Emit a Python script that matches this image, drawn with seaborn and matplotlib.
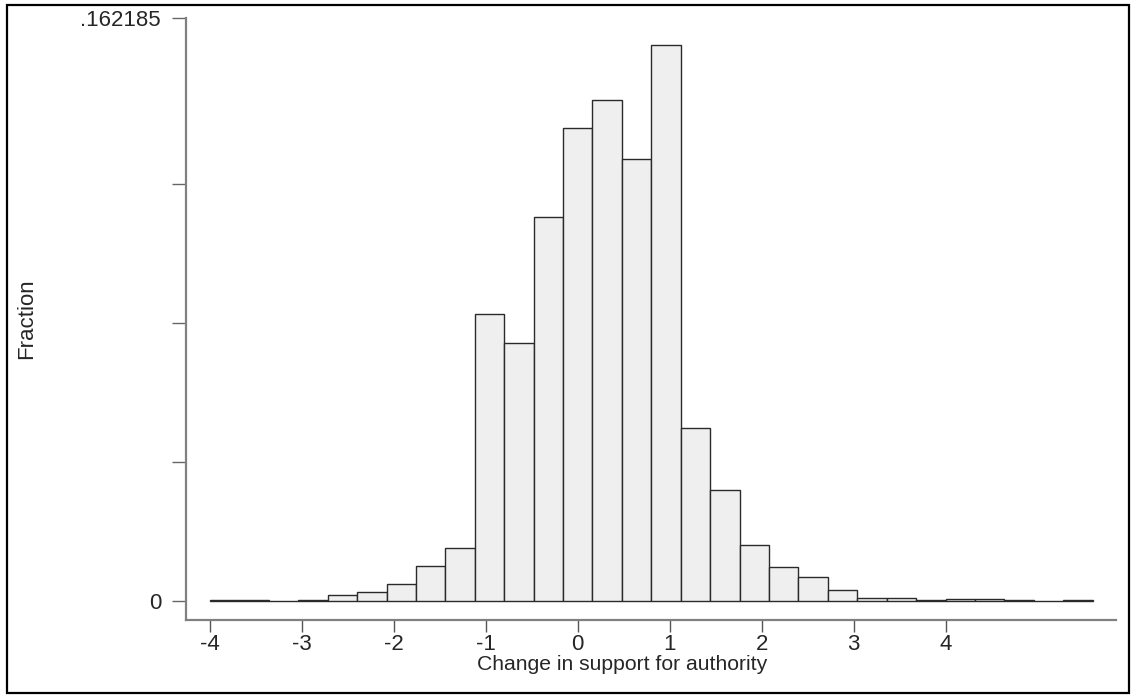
import matplotlib
matplotlib.use("Agg")
import matplotlib.pyplot as plt
from matplotlib.patches import Rectangle
import seaborn as sns
import numpy as np

# histogram bins (left edges + final right edge) and fraction per bin
bin_edges = [-4.00, -3.68, -3.36, -3.04, -2.72, -2.40, -2.08, -1.76, -1.44, -1.12,
             -0.80, -0.48, -0.16, 0.16, 0.48, 0.80, 1.12, 1.44, 1.76, 2.08,
             2.40, 2.72, 3.04, 3.36, 3.68, 4.00, 4.32, 4.64, 4.96, 5.28, 5.60]
fractions = [0.0002, 0.0002, 0.0, 0.0004, 0.00175, 0.0025, 0.0049, 0.0103, 0.0155, 0.0836,
             0.0751, 0.1120, 0.1378, 0.1461, 0.1288, 0.162185, 0.0504, 0.0324, 0.0163, 0.0099,
             0.0070, 0.0031, 0.0008, 0.0008, 0.0002, 0.0005, 0.0005, 0.0002, 0.0, 0.0002]

x_ticks = [-4, -3, -2, -1, 0, 1, 2, 3, 4]
x_ticklabels = ["-4", "-3", "-2", "-1", "0", "1", "2", "3", "4"]
y_quarter_ticks = [0.040546, 0.081093, 0.121639]
y_top = 0.1700
y_top_label = ".162185"

centers = [(a + b) / 2 for a, b in zip(bin_edges[:-1], bin_edges[1:])]

sns.set_style("white")
plt.rcParams["font.family"] = ["Liberation Sans", "DejaVu Sans"]
plt.rcParams["axes.unicode_minus"] = False

fig = plt.figure(figsize=(11.36, 6.95), dpi=100)
W, H = 1136, 695
ax = fig.add_axes([186 / W, 1 - 620 / H, (1116 - 186) / W, (620 - 18) / H])

sns.histplot(x=centers, weights=fractions, bins=bin_edges, stat="count",
             color="#efefef", edgecolor="#2a2a2a", linewidth=1.0, alpha=1.0, ax=ax)

ax.set_xlim(-4.261, 5.854)
ax.set_ylim(-0.00554, y_top)

for side in ["top", "right"]:
    ax.spines[side].set_visible(False)
for side in ["left", "bottom"]:
    ax.spines[side].set_color("#808080")
    ax.spines[side].set_linewidth(1.6)

ax.set_xticks(x_ticks)
ax.set_xticklabels(x_ticklabels)
ax.set_yticks([0, y_top])
ax.set_yticklabels(["0", y_top_label])
ax.set_yticks(y_quarter_ticks, minor=True)

ax.tick_params(axis="x", which="major", direction="out", length=8.5, width=1.0,
               color="#555555", labelsize=16, pad=1.5, bottom=True)
ax.tick_params(axis="y", which="both", direction="out", length=10, width=1.0,
               color="#666666", labelsize=16, pad=8, left=True)

ax.set_xlabel("Change in support for authority", fontsize=15.2)
ax.set_ylabel("Fraction", fontsize=16)
ax.xaxis.set_label_coords((622 - 186) / 930, -0.058)
ax.yaxis.set_label_coords(-0.160, 0.5)
ax.grid(False)

fig.patches.append(Rectangle((7 / W, 1 - 693 / H), (1129 - 7) / W, (693 - 5) / H,
                             transform=fig.transFigure, fill=False,
                             edgecolor="black", linewidth=1.6))

fig.savefig("out.png", dpi=100)
